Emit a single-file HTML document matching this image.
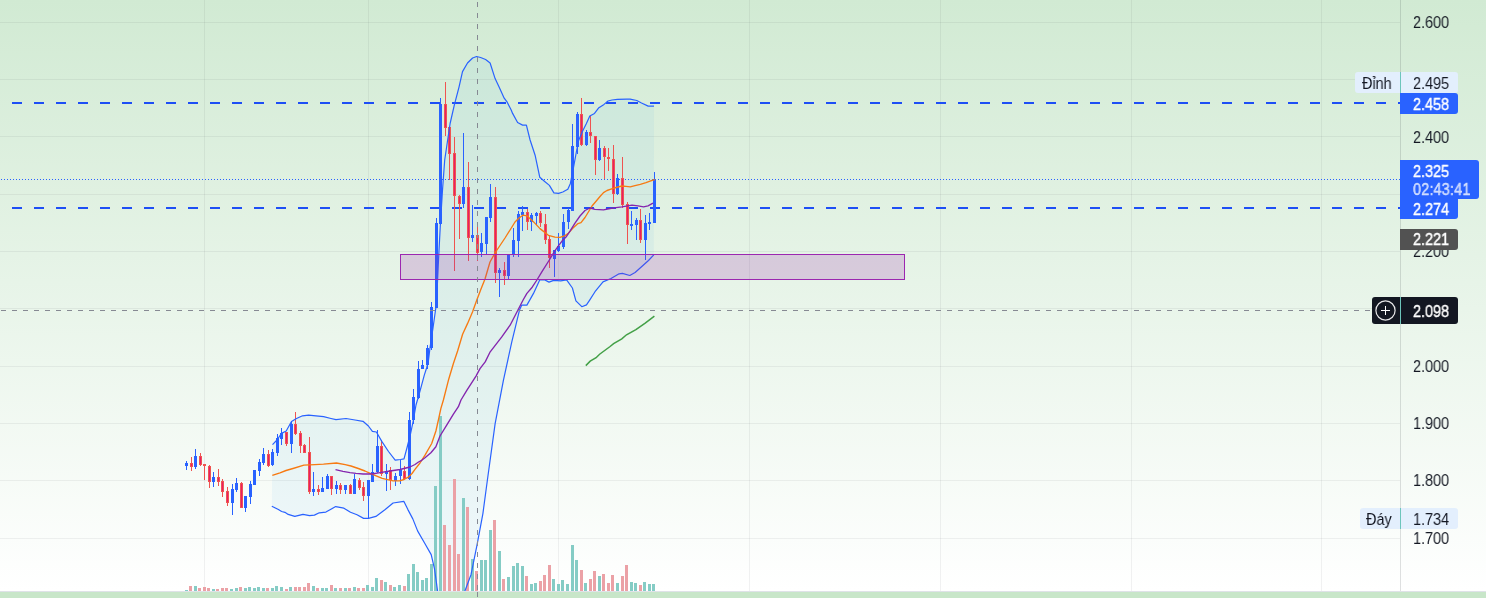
<!DOCTYPE html>
<html><head><meta charset="utf-8"><style>
html,body{margin:0;padding:0;}
body{width:1486px;height:598px;overflow:hidden;position:relative;
background:linear-gradient(to bottom,#d1ead3 0px,#ffffff 591px);
font-family:"Liberation Sans",sans-serif;}
svg.main{position:absolute;left:0;top:0;}
rect{shape-rendering:crispEdges;}
.tx{position:absolute;height:18px;line-height:18px;font-size:16.2px;white-space:nowrap;transform:scaleX(0.89);transform-origin:0 0;will-change:transform;}
.bx{position:absolute;}
</style></head><body>
<svg class="main" width="1486" height="598" viewBox="0 0 1486 598">
<defs><clipPath id="c"><rect x="0" y="0" width="1400" height="591"/></clipPath></defs>
<g clip-path="url(#c)">
<rect x="204" y="0" width="1" height="591" fill="rgba(42,46,57,0.065)"/>
<rect x="368" y="0" width="1" height="591" fill="rgba(42,46,57,0.065)"/>
<rect x="558" y="0" width="1" height="591" fill="rgba(42,46,57,0.065)"/>
<rect x="749" y="0" width="1" height="591" fill="rgba(42,46,57,0.065)"/>
<rect x="940" y="0" width="1" height="591" fill="rgba(42,46,57,0.065)"/>
<rect x="1131" y="0" width="1" height="591" fill="rgba(42,46,57,0.065)"/>
<rect x="1321" y="0" width="1" height="591" fill="rgba(42,46,57,0.065)"/>
<rect x="0" y="22" width="1400" height="1" fill="rgba(42,46,57,0.065)"/>
<rect x="0" y="79" width="1400" height="1" fill="rgba(42,46,57,0.065)"/>
<rect x="0" y="136" width="1400" height="1" fill="rgba(42,46,57,0.065)"/>
<rect x="0" y="194" width="1400" height="1" fill="rgba(42,46,57,0.065)"/>
<rect x="0" y="251" width="1400" height="1" fill="rgba(42,46,57,0.065)"/>
<rect x="0" y="308" width="1400" height="1" fill="rgba(42,46,57,0.065)"/>
<rect x="0" y="366" width="1400" height="1" fill="rgba(42,46,57,0.065)"/>
<rect x="0" y="423" width="1400" height="1" fill="rgba(42,46,57,0.065)"/>
<rect x="0" y="480" width="1400" height="1" fill="rgba(42,46,57,0.065)"/>
<rect x="0" y="538" width="1400" height="1" fill="rgba(42,46,57,0.065)"/>
<polygon points="272.5,444.6 277.0,440.0 281.5,433.4 286.2,431.0 291.5,421.5 296.5,418.5 302.5,415.8 308.6,415.2 316.0,415.8 323.6,416.7 331.0,418.5 336.0,419.6 346.0,418.5 355.0,420.0 363.0,421.3 368.4,426.0 372.4,431.4 376.4,432.0 381.8,441.4 388.5,451.5 395.2,460.2 400.5,459.5 404.0,458.8 407.2,447.0 410.5,434.0 413.0,422.0 416.0,405.0 420.2,390.3 424.3,375.1 426.6,368.0 428.4,361.0 430.1,347.0 433.0,328.0 436.5,303.0 438.5,260.0 440.5,222.0 442.5,190.0 444.7,160.0 450.1,123.5 454.3,105.2 459.0,87.1 462.5,71.6 467.5,63.0 472.6,58.0 476.6,56.5 480.6,57.5 485.6,59.5 490.1,63.0 495.1,78.6 499.1,87.1 504.2,98.2 507.2,102.2 511.2,110.0 512.6,113.4 517.6,122.5 522.6,125.1 526.4,125.1 530.1,140.0 535.1,155.2 539.8,177.3 544.4,181.2 549.4,185.4 553.9,192.9 558.6,193.4 562.8,192.0 567.8,189.2 570.3,183.7 573.6,167.0 577.0,148.5 578.4,140.9 582.4,131.5 586.4,123.5 589.8,116.1 594.5,113.4 598.5,108.1 604.0,104.4 608.0,101.0 612.0,100.0 617.4,99.3 626.8,99.1 630.1,99.1 636.8,100.5 641.5,103.0 648.2,106.1 654.0,106.2 653.8,254.9 648.5,260.5 641.8,266.5 635.1,272.5 629.8,275.5 622.4,273.4 619.1,273.8 611.0,278.5 603.0,281.9 595.0,291.7 590.0,299.6 586.5,304.9 581.8,306.7 575.9,300.8 572.4,288.0 566.6,279.8 560.7,280.9 553.7,280.4 549.0,282.1 544.4,279.8 539.7,280.0 533.5,293.4 526.9,305.1 521.8,305.1 519.5,310.1 511.8,341.9 503.4,380.3 495.1,423.8 487.4,480.0 482.9,513.6 477.0,545.1 471.0,574.7 465.1,590.5 460.0,625.0 450.0,650.0 440.0,625.0 437.5,590.5 434.5,568.8 431.2,554.6 424.7,543.2 417.7,531.1 412.8,518.9 407.9,509.6 403.8,501.3 393.1,503.0 384.9,509.8 375.9,516.4 368.5,518.4 363.6,518.4 357.0,514.8 350.5,512.3 343.9,508.2 335.7,506.6 325.9,512.1 319.3,512.8 314.4,515.1 309.5,515.6 303.0,514.4 294.8,516.4 288.2,514.4 284.9,512.3 281.6,511.5 278.4,509.5 271.8,506.2" fill="rgba(33,150,243,0.06)"/>
<rect x="185" y="590" width="3" height="1" fill="#85ccc5"/>
<rect x="189" y="586" width="3" height="5" fill="#eba1a6"/>
<rect x="194" y="586" width="3" height="5" fill="#85ccc5"/>
<rect x="198" y="588" width="3" height="3" fill="#eba1a6"/>
<rect x="203" y="587" width="3" height="4" fill="#eba1a6"/>
<rect x="207" y="588" width="3" height="3" fill="#eba1a6"/>
<rect x="212" y="589" width="3" height="2" fill="#85ccc5"/>
<rect x="216" y="589" width="3" height="2" fill="#eba1a6"/>
<rect x="221" y="588" width="3" height="3" fill="#eba1a6"/>
<rect x="225" y="588" width="3" height="3" fill="#eba1a6"/>
<rect x="230" y="589" width="3" height="2" fill="#85ccc5"/>
<rect x="235" y="588" width="3" height="3" fill="#85ccc5"/>
<rect x="239" y="587" width="3" height="4" fill="#eba1a6"/>
<rect x="244" y="588" width="3" height="3" fill="#85ccc5"/>
<rect x="248" y="587" width="3" height="4" fill="#85ccc5"/>
<rect x="253" y="588" width="3" height="3" fill="#85ccc5"/>
<rect x="257" y="587" width="3" height="4" fill="#85ccc5"/>
<rect x="262" y="588" width="3" height="3" fill="#85ccc5"/>
<rect x="266" y="588" width="3" height="3" fill="#eba1a6"/>
<rect x="271" y="588" width="3" height="3" fill="#85ccc5"/>
<rect x="275" y="586" width="3" height="5" fill="#85ccc5"/>
<rect x="280" y="587" width="3" height="4" fill="#85ccc5"/>
<rect x="285" y="589" width="3" height="2" fill="#eba1a6"/>
<rect x="289" y="587" width="3" height="4" fill="#85ccc5"/>
<rect x="294" y="587" width="3" height="4" fill="#eba1a6"/>
<rect x="298" y="587" width="3" height="4" fill="#eba1a6"/>
<rect x="303" y="587" width="3" height="4" fill="#eba1a6"/>
<rect x="307" y="583" width="3" height="8" fill="#eba1a6"/>
<rect x="312" y="586" width="3" height="5" fill="#85ccc5"/>
<rect x="316" y="588" width="3" height="3" fill="#eba1a6"/>
<rect x="321" y="588" width="3" height="3" fill="#85ccc5"/>
<rect x="325" y="588" width="3" height="3" fill="#85ccc5"/>
<rect x="330" y="585" width="3" height="6" fill="#eba1a6"/>
<rect x="334" y="588" width="3" height="3" fill="#85ccc5"/>
<rect x="339" y="588" width="3" height="3" fill="#eba1a6"/>
<rect x="344" y="588" width="3" height="3" fill="#85ccc5"/>
<rect x="348" y="588" width="3" height="3" fill="#eba1a6"/>
<rect x="353" y="587" width="3" height="4" fill="#85ccc5"/>
<rect x="357" y="588" width="3" height="3" fill="#eba1a6"/>
<rect x="362" y="588" width="3" height="3" fill="#eba1a6"/>
<rect x="366" y="585" width="3" height="6" fill="#85ccc5"/>
<rect x="371" y="587" width="3" height="4" fill="#85ccc5"/>
<rect x="375" y="578" width="3" height="13" fill="#85ccc5"/>
<rect x="380" y="580" width="3" height="11" fill="#eba1a6"/>
<rect x="384" y="582" width="3" height="9" fill="#85ccc5"/>
<rect x="389" y="585" width="3" height="6" fill="#eba1a6"/>
<rect x="393" y="587" width="3" height="4" fill="#85ccc5"/>
<rect x="398" y="585" width="3" height="6" fill="#85ccc5"/>
<rect x="403" y="586" width="3" height="5" fill="#eba1a6"/>
<rect x="407" y="574" width="3" height="17" fill="#85ccc5"/>
<rect x="412" y="564" width="3" height="27" fill="#85ccc5"/>
<rect x="416" y="572" width="3" height="19" fill="#85ccc5"/>
<rect x="421" y="580" width="3" height="11" fill="#85ccc5"/>
<rect x="425" y="578" width="3" height="13" fill="#85ccc5"/>
<rect x="430" y="564" width="3" height="27" fill="#85ccc5"/>
<rect x="434" y="486" width="3" height="105" fill="#85ccc5"/>
<rect x="439" y="416" width="3" height="175" fill="#85ccc5"/>
<rect x="443" y="525" width="3" height="66" fill="#eba1a6"/>
<rect x="448" y="545" width="3" height="46" fill="#eba1a6"/>
<rect x="453" y="479" width="3" height="112" fill="#eba1a6"/>
<rect x="457" y="554" width="3" height="37" fill="#eba1a6"/>
<rect x="462" y="498" width="3" height="93" fill="#85ccc5"/>
<rect x="466" y="507" width="3" height="84" fill="#eba1a6"/>
<rect x="471" y="559" width="3" height="32" fill="#85ccc5"/>
<rect x="475" y="571" width="3" height="20" fill="#eba1a6"/>
<rect x="480" y="560" width="3" height="31" fill="#85ccc5"/>
<rect x="484" y="560" width="3" height="31" fill="#85ccc5"/>
<rect x="489" y="530" width="3" height="61" fill="#85ccc5"/>
<rect x="493" y="520" width="3" height="71" fill="#eba1a6"/>
<rect x="498" y="551" width="3" height="40" fill="#85ccc5"/>
<rect x="502" y="579" width="3" height="12" fill="#eba1a6"/>
<rect x="507" y="577" width="3" height="14" fill="#85ccc5"/>
<rect x="512" y="566" width="3" height="25" fill="#85ccc5"/>
<rect x="516" y="563" width="3" height="28" fill="#85ccc5"/>
<rect x="521" y="566" width="3" height="25" fill="#85ccc5"/>
<rect x="525" y="576" width="3" height="15" fill="#eba1a6"/>
<rect x="530" y="584" width="3" height="7" fill="#85ccc5"/>
<rect x="534" y="583" width="3" height="8" fill="#85ccc5"/>
<rect x="539" y="581" width="3" height="10" fill="#eba1a6"/>
<rect x="543" y="575" width="3" height="16" fill="#eba1a6"/>
<rect x="548" y="565" width="3" height="26" fill="#eba1a6"/>
<rect x="552" y="579" width="3" height="12" fill="#85ccc5"/>
<rect x="557" y="584" width="3" height="7" fill="#85ccc5"/>
<rect x="561" y="580" width="3" height="11" fill="#85ccc5"/>
<rect x="566" y="584" width="3" height="7" fill="#85ccc5"/>
<rect x="571" y="545" width="3" height="46" fill="#85ccc5"/>
<rect x="575" y="560" width="3" height="31" fill="#85ccc5"/>
<rect x="580" y="570" width="3" height="21" fill="#eba1a6"/>
<rect x="584" y="583" width="3" height="8" fill="#85ccc5"/>
<rect x="589" y="579" width="3" height="12" fill="#eba1a6"/>
<rect x="593" y="571" width="3" height="20" fill="#eba1a6"/>
<rect x="598" y="576" width="3" height="15" fill="#85ccc5"/>
<rect x="602" y="574" width="3" height="17" fill="#eba1a6"/>
<rect x="607" y="583" width="3" height="8" fill="#eba1a6"/>
<rect x="611" y="575" width="3" height="16" fill="#eba1a6"/>
<rect x="616" y="583" width="3" height="8" fill="#85ccc5"/>
<rect x="621" y="576" width="3" height="15" fill="#eba1a6"/>
<rect x="625" y="565" width="3" height="26" fill="#eba1a6"/>
<rect x="630" y="582" width="3" height="9" fill="#85ccc5"/>
<rect x="634" y="583" width="3" height="8" fill="#85ccc5"/>
<rect x="639" y="585" width="3" height="6" fill="#eba1a6"/>
<rect x="643" y="582" width="3" height="9" fill="#85ccc5"/>
<rect x="648" y="584" width="3" height="7" fill="#85ccc5"/>
<rect x="652" y="584" width="3" height="7" fill="#85ccc5"/>
<line x1="12" y1="103" x2="1400" y2="103" stroke="#1e4ff5" stroke-width="2" stroke-dasharray="10 12"/>
<line x1="12" y1="208" x2="1400" y2="208" stroke="#1e4ff5" stroke-width="2" stroke-dasharray="10 12"/>
<line x1="1" y1="179.5" x2="1400" y2="179.5" stroke="#2962ff" stroke-width="1" stroke-dasharray="1 2"/>
<rect x="186" y="461" width="1" height="9" fill="#2962ff"/>
<rect x="185" y="463" width="3" height="3" fill="#2962ff"/>
<rect x="191" y="457" width="1" height="14" fill="#ef5350"/>
<rect x="190" y="463" width="3" height="4" fill="#ef5350"/>
<rect x="191" y="464" width="1" height="2" fill="#e91e63"/>
<rect x="195" y="449" width="1" height="20" fill="#2962ff"/>
<rect x="194" y="456" width="3" height="11" fill="#2962ff"/>
<rect x="200" y="453" width="1" height="13" fill="#ef5350"/>
<rect x="199" y="456" width="3" height="9" fill="#ef5350"/>
<rect x="200" y="457" width="1" height="7" fill="#e91e63"/>
<rect x="204" y="464" width="1" height="16" fill="#ef5350"/>
<rect x="203" y="464" width="3" height="2" fill="#ef5350"/>
<rect x="209" y="465" width="1" height="23" fill="#ef5350"/>
<rect x="208" y="466" width="3" height="16" fill="#ef5350"/>
<rect x="209" y="467" width="1" height="14" fill="#e91e63"/>
<rect x="213" y="472" width="1" height="15" fill="#2962ff"/>
<rect x="212" y="477" width="3" height="5" fill="#2962ff"/>
<rect x="218" y="469" width="1" height="17" fill="#ef5350"/>
<rect x="217" y="477" width="3" height="5" fill="#ef5350"/>
<rect x="218" y="478" width="1" height="3" fill="#e91e63"/>
<rect x="222" y="479" width="1" height="18" fill="#ef5350"/>
<rect x="221" y="481" width="3" height="11" fill="#ef5350"/>
<rect x="222" y="482" width="1" height="9" fill="#e91e63"/>
<rect x="227" y="487" width="1" height="19" fill="#ef5350"/>
<rect x="226" y="491" width="3" height="12" fill="#ef5350"/>
<rect x="227" y="492" width="1" height="10" fill="#e91e63"/>
<rect x="232" y="484" width="1" height="31" fill="#2962ff"/>
<rect x="231" y="489" width="3" height="14" fill="#2962ff"/>
<rect x="236" y="478" width="1" height="14" fill="#2962ff"/>
<rect x="235" y="483" width="3" height="7" fill="#2962ff"/>
<rect x="241" y="482" width="1" height="26" fill="#ef5350"/>
<rect x="240" y="483" width="3" height="25" fill="#ef5350"/>
<rect x="241" y="484" width="1" height="23" fill="#e91e63"/>
<rect x="245" y="496" width="1" height="16" fill="#2962ff"/>
<rect x="244" y="496" width="3" height="12" fill="#2962ff"/>
<rect x="250" y="481" width="1" height="23" fill="#2962ff"/>
<rect x="249" y="484" width="3" height="13" fill="#2962ff"/>
<rect x="254" y="470" width="1" height="15" fill="#2962ff"/>
<rect x="253" y="470" width="3" height="15" fill="#2962ff"/>
<rect x="259" y="459" width="1" height="17" fill="#2962ff"/>
<rect x="258" y="462" width="3" height="9" fill="#2962ff"/>
<rect x="263" y="448" width="1" height="17" fill="#2962ff"/>
<rect x="262" y="454" width="3" height="9" fill="#2962ff"/>
<rect x="268" y="450" width="1" height="17" fill="#ef5350"/>
<rect x="267" y="454" width="3" height="12" fill="#ef5350"/>
<rect x="268" y="455" width="1" height="10" fill="#e91e63"/>
<rect x="272" y="449" width="1" height="17" fill="#2962ff"/>
<rect x="271" y="452" width="3" height="13" fill="#2962ff"/>
<rect x="277" y="434" width="1" height="22" fill="#2962ff"/>
<rect x="276" y="438" width="3" height="15" fill="#2962ff"/>
<rect x="281" y="428" width="1" height="17" fill="#2962ff"/>
<rect x="280" y="433" width="3" height="6" fill="#2962ff"/>
<rect x="286" y="432" width="1" height="14" fill="#ef5350"/>
<rect x="285" y="432" width="3" height="12" fill="#ef5350"/>
<rect x="286" y="433" width="1" height="10" fill="#e91e63"/>
<rect x="291" y="421" width="1" height="32" fill="#2962ff"/>
<rect x="290" y="424" width="3" height="20" fill="#2962ff"/>
<rect x="295" y="412" width="1" height="23" fill="#ef5350"/>
<rect x="294" y="424" width="3" height="10" fill="#ef5350"/>
<rect x="295" y="425" width="1" height="8" fill="#e91e63"/>
<rect x="300" y="431" width="1" height="22" fill="#ef5350"/>
<rect x="299" y="433" width="3" height="13" fill="#ef5350"/>
<rect x="300" y="434" width="1" height="11" fill="#e91e63"/>
<rect x="304" y="444" width="1" height="9" fill="#ef5350"/>
<rect x="303" y="445" width="3" height="8" fill="#ef5350"/>
<rect x="304" y="446" width="1" height="6" fill="#e91e63"/>
<rect x="309" y="437" width="1" height="57" fill="#ef5350"/>
<rect x="308" y="452" width="3" height="40" fill="#ef5350"/>
<rect x="309" y="453" width="1" height="38" fill="#e91e63"/>
<rect x="313" y="472" width="1" height="24" fill="#2962ff"/>
<rect x="312" y="489" width="3" height="3" fill="#2962ff"/>
<rect x="318" y="485" width="1" height="10" fill="#ef5350"/>
<rect x="317" y="489" width="3" height="3" fill="#ef5350"/>
<rect x="318" y="490" width="1" height="1" fill="#e91e63"/>
<rect x="322" y="477" width="1" height="15" fill="#2962ff"/>
<rect x="321" y="488" width="3" height="4" fill="#2962ff"/>
<rect x="327" y="474" width="1" height="15" fill="#2962ff"/>
<rect x="326" y="476" width="3" height="13" fill="#2962ff"/>
<rect x="331" y="476" width="1" height="19" fill="#ef5350"/>
<rect x="330" y="476" width="3" height="13" fill="#ef5350"/>
<rect x="331" y="477" width="1" height="11" fill="#e91e63"/>
<rect x="336" y="481" width="1" height="13" fill="#2962ff"/>
<rect x="335" y="485" width="3" height="4" fill="#2962ff"/>
<rect x="340" y="483" width="1" height="11" fill="#ef5350"/>
<rect x="339" y="485" width="3" height="5" fill="#ef5350"/>
<rect x="340" y="486" width="1" height="3" fill="#e91e63"/>
<rect x="345" y="485" width="1" height="9" fill="#2962ff"/>
<rect x="344" y="485" width="3" height="5" fill="#2962ff"/>
<rect x="350" y="484" width="1" height="10" fill="#ef5350"/>
<rect x="349" y="485" width="3" height="9" fill="#ef5350"/>
<rect x="350" y="486" width="1" height="7" fill="#e91e63"/>
<rect x="354" y="474" width="1" height="20" fill="#2962ff"/>
<rect x="353" y="479" width="3" height="15" fill="#2962ff"/>
<rect x="359" y="478" width="1" height="12" fill="#ef5350"/>
<rect x="358" y="480" width="3" height="8" fill="#ef5350"/>
<rect x="359" y="481" width="1" height="6" fill="#e91e63"/>
<rect x="363" y="482" width="1" height="19" fill="#ef5350"/>
<rect x="362" y="487" width="3" height="9" fill="#ef5350"/>
<rect x="363" y="488" width="1" height="7" fill="#e91e63"/>
<rect x="368" y="480" width="1" height="38" fill="#2962ff"/>
<rect x="367" y="480" width="3" height="16" fill="#2962ff"/>
<rect x="372" y="464" width="1" height="18" fill="#2962ff"/>
<rect x="371" y="472" width="3" height="10" fill="#2962ff"/>
<rect x="377" y="430" width="1" height="43" fill="#2962ff"/>
<rect x="376" y="446" width="3" height="26" fill="#2962ff"/>
<rect x="381" y="440" width="1" height="36" fill="#ef5350"/>
<rect x="380" y="446" width="3" height="28" fill="#ef5350"/>
<rect x="381" y="447" width="1" height="26" fill="#e91e63"/>
<rect x="386" y="464" width="1" height="27" fill="#2962ff"/>
<rect x="385" y="471" width="3" height="3" fill="#2962ff"/>
<rect x="390" y="467" width="1" height="23" fill="#ef5350"/>
<rect x="389" y="470" width="3" height="10" fill="#ef5350"/>
<rect x="390" y="471" width="1" height="8" fill="#e91e63"/>
<rect x="395" y="473" width="1" height="13" fill="#2962ff"/>
<rect x="394" y="476" width="3" height="5" fill="#2962ff"/>
<rect x="400" y="460" width="1" height="24" fill="#2962ff"/>
<rect x="399" y="470" width="3" height="6" fill="#2962ff"/>
<rect x="404" y="466" width="1" height="14" fill="#ef5350"/>
<rect x="403" y="471" width="3" height="8" fill="#ef5350"/>
<rect x="404" y="472" width="1" height="6" fill="#e91e63"/>
<rect x="409" y="412" width="1" height="68" fill="#2962ff"/>
<rect x="408" y="420" width="3" height="59" fill="#2962ff"/>
<rect x="413" y="389" width="1" height="35" fill="#2962ff"/>
<rect x="412" y="397" width="3" height="23" fill="#2962ff"/>
<rect x="418" y="361" width="1" height="38" fill="#2962ff"/>
<rect x="417" y="369" width="3" height="29" fill="#2962ff"/>
<rect x="422" y="360" width="1" height="9" fill="#2962ff"/>
<rect x="421" y="365" width="3" height="4" fill="#2962ff"/>
<rect x="427" y="345" width="1" height="24" fill="#2962ff"/>
<rect x="426" y="348" width="3" height="17" fill="#2962ff"/>
<rect x="431" y="302" width="1" height="48" fill="#2962ff"/>
<rect x="430" y="307" width="3" height="41" fill="#2962ff"/>
<rect x="436" y="218" width="1" height="90" fill="#2962ff"/>
<rect x="435" y="223" width="3" height="85" fill="#2962ff"/>
<rect x="440" y="98" width="1" height="127" fill="#2962ff"/>
<rect x="439" y="104" width="3" height="120" fill="#2962ff"/>
<rect x="445" y="82" width="1" height="54" fill="#ef5350"/>
<rect x="444" y="104" width="3" height="24" fill="#ef5350"/>
<rect x="445" y="105" width="1" height="22" fill="#e91e63"/>
<rect x="449" y="127" width="1" height="53" fill="#ef5350"/>
<rect x="448" y="127" width="3" height="27" fill="#ef5350"/>
<rect x="449" y="128" width="1" height="25" fill="#e91e63"/>
<rect x="454" y="137" width="1" height="134" fill="#ef5350"/>
<rect x="453" y="153" width="3" height="43" fill="#ef5350"/>
<rect x="454" y="154" width="1" height="41" fill="#e91e63"/>
<rect x="459" y="195" width="1" height="44" fill="#ef5350"/>
<rect x="458" y="196" width="3" height="8" fill="#ef5350"/>
<rect x="459" y="197" width="1" height="6" fill="#e91e63"/>
<rect x="463" y="133" width="1" height="75" fill="#2962ff"/>
<rect x="462" y="187" width="3" height="17" fill="#2962ff"/>
<rect x="468" y="162" width="1" height="99" fill="#ef5350"/>
<rect x="467" y="187" width="3" height="51" fill="#ef5350"/>
<rect x="468" y="188" width="1" height="49" fill="#e91e63"/>
<rect x="472" y="205" width="1" height="37" fill="#2962ff"/>
<rect x="471" y="235" width="3" height="3" fill="#2962ff"/>
<rect x="477" y="227" width="1" height="34" fill="#ef5350"/>
<rect x="476" y="235" width="3" height="18" fill="#ef5350"/>
<rect x="477" y="236" width="1" height="16" fill="#e91e63"/>
<rect x="481" y="233" width="1" height="24" fill="#2962ff"/>
<rect x="480" y="243" width="3" height="9" fill="#2962ff"/>
<rect x="486" y="217" width="1" height="37" fill="#2962ff"/>
<rect x="485" y="217" width="3" height="27" fill="#2962ff"/>
<rect x="490" y="184" width="1" height="38" fill="#2962ff"/>
<rect x="489" y="197" width="3" height="21" fill="#2962ff"/>
<rect x="495" y="187" width="1" height="96" fill="#ef5350"/>
<rect x="494" y="197" width="3" height="76" fill="#ef5350"/>
<rect x="495" y="198" width="1" height="74" fill="#e91e63"/>
<rect x="499" y="268" width="1" height="29" fill="#2962ff"/>
<rect x="498" y="270" width="3" height="3" fill="#2962ff"/>
<rect x="504" y="262" width="1" height="23" fill="#ef5350"/>
<rect x="503" y="270" width="3" height="6" fill="#ef5350"/>
<rect x="504" y="271" width="1" height="4" fill="#e91e63"/>
<rect x="508" y="254" width="1" height="26" fill="#2962ff"/>
<rect x="507" y="254" width="3" height="22" fill="#2962ff"/>
<rect x="513" y="228" width="1" height="29" fill="#2962ff"/>
<rect x="512" y="240" width="3" height="14" fill="#2962ff"/>
<rect x="518" y="211" width="1" height="46" fill="#2962ff"/>
<rect x="517" y="214" width="3" height="27" fill="#2962ff"/>
<rect x="522" y="206" width="1" height="25" fill="#2962ff"/>
<rect x="521" y="212" width="3" height="3" fill="#2962ff"/>
<rect x="527" y="209" width="1" height="21" fill="#ef5350"/>
<rect x="526" y="212" width="3" height="10" fill="#ef5350"/>
<rect x="527" y="213" width="1" height="8" fill="#e91e63"/>
<rect x="531" y="213" width="1" height="18" fill="#2962ff"/>
<rect x="530" y="215" width="3" height="7" fill="#2962ff"/>
<rect x="536" y="212" width="1" height="13" fill="#2962ff"/>
<rect x="535" y="213" width="3" height="3" fill="#2962ff"/>
<rect x="540" y="211" width="1" height="16" fill="#ef5350"/>
<rect x="539" y="213" width="3" height="10" fill="#ef5350"/>
<rect x="540" y="214" width="1" height="8" fill="#e91e63"/>
<rect x="545" y="214" width="1" height="30" fill="#ef5350"/>
<rect x="544" y="224" width="3" height="16" fill="#ef5350"/>
<rect x="545" y="225" width="1" height="14" fill="#e91e63"/>
<rect x="549" y="235" width="1" height="33" fill="#ef5350"/>
<rect x="548" y="239" width="3" height="19" fill="#ef5350"/>
<rect x="549" y="240" width="1" height="17" fill="#e91e63"/>
<rect x="554" y="250" width="1" height="27" fill="#2962ff"/>
<rect x="553" y="250" width="3" height="9" fill="#2962ff"/>
<rect x="558" y="233" width="1" height="19" fill="#2962ff"/>
<rect x="557" y="246" width="3" height="5" fill="#2962ff"/>
<rect x="563" y="214" width="1" height="35" fill="#2962ff"/>
<rect x="562" y="222" width="3" height="25" fill="#2962ff"/>
<rect x="568" y="208" width="1" height="21" fill="#2962ff"/>
<rect x="567" y="210" width="3" height="12" fill="#2962ff"/>
<rect x="572" y="124" width="1" height="87" fill="#2962ff"/>
<rect x="571" y="146" width="3" height="65" fill="#2962ff"/>
<rect x="577" y="112" width="1" height="42" fill="#2962ff"/>
<rect x="576" y="114" width="3" height="33" fill="#2962ff"/>
<rect x="581" y="98" width="1" height="48" fill="#ef5350"/>
<rect x="580" y="114" width="3" height="31" fill="#ef5350"/>
<rect x="581" y="115" width="1" height="29" fill="#e91e63"/>
<rect x="586" y="130" width="1" height="16" fill="#2962ff"/>
<rect x="585" y="132" width="3" height="13" fill="#2962ff"/>
<rect x="590" y="116" width="1" height="27" fill="#ef5350"/>
<rect x="589" y="132" width="3" height="4" fill="#ef5350"/>
<rect x="590" y="133" width="1" height="2" fill="#e91e63"/>
<rect x="595" y="136" width="1" height="39" fill="#ef5350"/>
<rect x="594" y="136" width="3" height="24" fill="#ef5350"/>
<rect x="595" y="137" width="1" height="22" fill="#e91e63"/>
<rect x="599" y="140" width="1" height="21" fill="#2962ff"/>
<rect x="598" y="148" width="3" height="12" fill="#2962ff"/>
<rect x="604" y="146" width="1" height="33" fill="#ef5350"/>
<rect x="603" y="148" width="3" height="9" fill="#ef5350"/>
<rect x="604" y="149" width="1" height="7" fill="#e91e63"/>
<rect x="608" y="148" width="1" height="23" fill="#ef5350"/>
<rect x="607" y="157" width="3" height="2" fill="#ef5350"/>
<rect x="613" y="145" width="1" height="58" fill="#ef5350"/>
<rect x="612" y="159" width="3" height="35" fill="#ef5350"/>
<rect x="613" y="160" width="1" height="33" fill="#e91e63"/>
<rect x="617" y="174" width="1" height="21" fill="#2962ff"/>
<rect x="616" y="178" width="3" height="16" fill="#2962ff"/>
<rect x="622" y="157" width="1" height="51" fill="#ef5350"/>
<rect x="621" y="178" width="3" height="27" fill="#ef5350"/>
<rect x="622" y="179" width="1" height="25" fill="#e91e63"/>
<rect x="627" y="202" width="1" height="42" fill="#ef5350"/>
<rect x="626" y="204" width="3" height="21" fill="#ef5350"/>
<rect x="627" y="205" width="1" height="19" fill="#e91e63"/>
<rect x="631" y="211" width="1" height="19" fill="#2962ff"/>
<rect x="630" y="224" width="3" height="2" fill="#2962ff"/>
<rect x="636" y="218" width="1" height="22" fill="#2962ff"/>
<rect x="635" y="220" width="3" height="5" fill="#2962ff"/>
<rect x="640" y="209" width="1" height="34" fill="#ef5350"/>
<rect x="639" y="220" width="3" height="20" fill="#ef5350"/>
<rect x="640" y="221" width="1" height="18" fill="#e91e63"/>
<rect x="645" y="215" width="1" height="45" fill="#2962ff"/>
<rect x="644" y="223" width="3" height="17" fill="#2962ff"/>
<rect x="649" y="213" width="1" height="17" fill="#2962ff"/>
<rect x="648" y="222" width="3" height="2" fill="#2962ff"/>
<rect x="654" y="172" width="1" height="51" fill="#2962ff"/>
<rect x="653" y="179" width="3" height="44" fill="#2962ff"/>
<polyline points="272.5,444.6 277.0,440.0 281.5,433.4 286.2,431.0 291.5,421.5 296.5,418.5 302.5,415.8 308.6,415.2 316.0,415.8 323.6,416.7 331.0,418.5 336.0,419.6 346.0,418.5 355.0,420.0 363.0,421.3 368.4,426.0 372.4,431.4 376.4,432.0 381.8,441.4 388.5,451.5 395.2,460.2 400.5,459.5 404.0,458.8 407.2,447.0 410.5,434.0 413.0,422.0 416.0,405.0 420.2,390.3 424.3,375.1 426.6,368.0 428.4,361.0 430.1,347.0 433.0,328.0 436.5,303.0 438.5,260.0 440.5,222.0 442.5,190.0 444.7,160.0 450.1,123.5 454.3,105.2 459.0,87.1 462.5,71.6 467.5,63.0 472.6,58.0 476.6,56.5 480.6,57.5 485.6,59.5 490.1,63.0 495.1,78.6 499.1,87.1 504.2,98.2 507.2,102.2 511.2,110.0 512.6,113.4 517.6,122.5 522.6,125.1 526.4,125.1 530.1,140.0 535.1,155.2 539.8,177.3 544.4,181.2 549.4,185.4 553.9,192.9 558.6,193.4 562.8,192.0 567.8,189.2 570.3,183.7 573.6,167.0 577.0,148.5 578.4,140.9 582.4,131.5 586.4,123.5 589.8,116.1 594.5,113.4 598.5,108.1 604.0,104.4 608.0,101.0 612.0,100.0 617.4,99.3 626.8,99.1 630.1,99.1 636.8,100.5 641.5,103.0 648.2,106.1 654.0,106.2" fill="none" stroke="#2962ff" stroke-width="1.2" stroke-linejoin="round"/>
<polyline points="271.8,506.2 278.4,509.5 281.6,511.5 284.9,512.3 288.2,514.4 294.8,516.4 303.0,514.4 309.5,515.6 314.4,515.1 319.3,512.8 325.9,512.1 335.7,506.6 343.9,508.2 350.5,512.3 357.0,514.8 363.6,518.4 368.5,518.4 375.9,516.4 384.9,509.8 393.1,503.0 403.8,501.3 407.9,509.6 412.8,518.9 417.7,531.1 424.7,543.2 431.2,554.6 434.5,568.8 437.5,590.5 440.0,625.0 450.0,650.0 460.0,625.0 465.1,590.5 471.0,574.7 477.0,545.1 482.9,513.6 487.4,480.0 495.1,423.8 503.4,380.3 511.8,341.9 519.5,310.1 521.8,305.1 526.9,305.1 533.5,293.4 539.7,280.0 544.4,279.8 549.0,282.1 553.7,280.4 560.7,280.9 566.6,279.8 572.4,288.0 575.9,300.8 581.8,306.7 586.5,304.9 590.0,299.6 595.0,291.7 603.0,281.9 611.0,278.5 619.1,273.8 622.4,273.4 629.8,275.5 635.1,272.5 641.8,266.5 648.5,260.5 653.8,254.9" fill="none" stroke="#2962ff" stroke-width="1.2" stroke-linejoin="round"/>
<polyline points="272.3,475.3 280.0,472.8 286.0,470.5 293.0,468.5 303.9,465.2 314.8,464.6 323.5,464.1 336.5,463.0 345.2,464.6 351.0,466.0 358.3,468.5 365.0,471.0 371.3,473.9 382.2,478.3 393.0,480.9 399.6,480.9 404.0,479.5 408.3,477.2 412.0,473.5 414.8,469.6 420.0,463.0 425.0,455.2 431.7,443.5 435.9,431.0 438.4,420.0 440.9,408.4 443.4,400.0 448.4,380.3 453.4,363.5 457.6,351.0 462.6,334.3 467.6,323.4 472.6,311.7 476.8,300.0 481.0,289.0 485.0,279.0 490.0,262.0 495.0,253.0 500.0,245.5 505.0,238.0 511.0,228.5 515.0,222.0 519.0,218.0 522.9,215.2 526.9,215.8 533.6,221.9 540.0,228.6 548.4,235.3 555.0,237.1 560.0,237.3 565.0,235.6 568.0,233.6 573.0,228.1 578.0,223.6 581.0,222.6 585.0,217.5 589.0,211.0 592.0,206.0 595.0,202.5 600.0,196.5 603.5,192.6 607.0,190.5 610.2,189.3 616.0,187.5 621.9,186.0 626.0,186.3 630.2,186.8 635.0,185.6 640.3,184.3 646.0,182.6 652.8,180.1 655.0,179.6" fill="none" stroke="#f77a12" stroke-width="1.35" stroke-linejoin="round"/>
<polyline points="335.5,469.7 343.0,471.3 350.0,472.6 356.0,473.4 363.0,474.0 372.0,474.0 380.0,472.6 390.0,471.0 400.0,469.5 410.0,467.0 415.0,464.5 418.5,462.0 421.7,460.3 425.0,457.7 430.9,452.7 435.9,446.8 440.0,436.0 446.7,425.1 453.4,414.2 458.4,406.7 461.0,400.0 466.8,390.3 476.0,376.1 480.0,368.6 485.2,361.9 490.2,351.8 501.8,336.9 510.1,325.2 523.1,300.0 526.9,293.4 532.2,287.2 536.9,280.0 542.0,271.6 549.0,260.5 555.0,250.6 559.0,245.1 562.0,241.1 566.0,237.1 570.0,231.1 575.0,223.1 580.0,216.0 585.0,210.5 590.0,208.0 595.0,209.3 603.5,209.8 610.2,208.5 616.0,207.6 621.9,206.8 632.0,205.2 638.0,205.8 643.6,206.8 648.0,205.8 653.0,203.2" fill="none" stroke="#8425ae" stroke-width="1.35" stroke-linejoin="round"/>
<rect x="400.5" y="254.5" width="504" height="25" fill="rgba(156,39,176,0.2)" stroke="#9c27b0" stroke-width="1"/>
<polyline points="585.8,365.6 590.2,361.2 596.1,357.7 599.6,354.2 610.1,346.5 613.6,343.6 621.8,338.9 626.5,334.8 635.9,329.6 645.2,323.1 654.4,316.1" fill="none" stroke="#43a047" stroke-width="1.5"/>
<line x1="477.5" y1="2" x2="477.5" y2="591" stroke="#868993" stroke-width="1" stroke-dasharray="5 6"/>
<line x1="1" y1="310.5" x2="1372" y2="310.5" stroke="#868993" stroke-width="1" stroke-dasharray="5 6"/>
</g>
<rect x="1400" y="0" width="1" height="598" fill="rgba(42,46,57,0.15)"/>
<rect x="0" y="591" width="1486" height="1" fill="#dfe2e8"/>
<rect x="0" y="592" width="1486" height="6" fill="#c8e6c9"/>
<rect x="477" y="592" width="1" height="5" fill="#868993"/>
</svg>
<div class="tx" style="left:1413px;top:12.5px;color:#131722;">2.600</div>
<div class="tx" style="left:1413px;top:127.5px;color:#131722;">2.400</div>
<div class="tx" style="left:1413px;top:242px;color:#131722;">2.200</div>
<div class="tx" style="left:1413px;top:357px;color:#131722;">2.000</div>
<div class="tx" style="left:1413px;top:414px;color:#131722;">1.900</div>
<div class="tx" style="left:1413px;top:471px;color:#131722;">1.800</div>
<div class="tx" style="left:1413px;top:528.5px;color:#131722;">1.700</div>
<div class="bx" style="left:1355px;top:72px;width:45px;height:21px;background:#e3effd;border-radius:3px 0 0 3px;"></div>
<div class="bx" style="left:1401px;top:72px;width:57px;height:21px;background:#e3effd;border-radius:0 3px 3px 0;"></div>
<div class="bx" style="left:1400px;top:93px;width:58px;height:21px;background:#2962ff;border-radius:0 3px 3px 0;"></div>
<div class="bx" style="left:1400px;top:160px;width:79px;height:39px;background:#2962ff;border-radius:0 3px 3px 0;"></div>
<div class="bx" style="left:1400px;top:198px;width:58px;height:21px;background:#2962ff;border-radius:0 0 3px 0;"></div>
<div class="bx" style="left:1400px;top:229px;width:58px;height:21px;background:#525252;border-radius:0 3px 3px 0;"></div>
<div class="bx" style="left:1372px;top:297px;width:28px;height:27px;background:#131722;border-radius:3px 0 0 3px;"></div>
<div class="bx" style="left:1401px;top:297px;width:57px;height:27px;background:#131722;border-radius:0 3px 3px 0;"></div>
<div class="bx" style="left:1360px;top:508px;width:40px;height:21px;background:#e3effd;border-radius:3px 0 0 3px;"></div>
<div class="bx" style="left:1401px;top:508px;width:57px;height:21px;background:#e3effd;border-radius:0 3px 3px 0;"></div>
<div class="bx" style="left:1400px;top:72px;width:1px;height:21px;background:#6cc5bb;"></div>
<div class="bx" style="left:1400px;top:297px;width:1px;height:27px;background:#6cc5bb;"></div>
<div class="bx" style="left:1400px;top:508px;width:1px;height:21px;background:#6cc5bb;"></div>
<svg style="position:absolute;left:1372px;top:297px" width="28" height="27"><circle cx="13.5" cy="13.5" r="9.6" fill="none" stroke="#e8e8ea" stroke-width="1.2"/><path d="M9 13.5h9M13.5 9v9" stroke="#fff" stroke-width="1"/></svg>
<div class="tx" style="left:1362px;top:73.5px;color:#131722;">Đỉnh</div>
<div class="tx" style="left:1413px;top:73.5px;color:#131722;">2.495</div>
<div class="tx" style="left:1413px;top:94.5px;color:#fff;-webkit-text-stroke:0.45px currentColor;">2.458</div>
<div class="tx" style="left:1413px;top:161.5px;color:#fff;-webkit-text-stroke:0.45px currentColor;">2.325</div>
<div class="tx" style="left:1413px;top:179.5px;color:rgba(255,255,255,0.72);-webkit-text-stroke:0.45px currentColor;letter-spacing:0.2px;">02:43:41</div>
<div class="tx" style="left:1413px;top:199.5px;color:#fff;-webkit-text-stroke:0.45px currentColor;">2.274</div>
<div class="tx" style="left:1413px;top:230px;color:#fff;-webkit-text-stroke:0.45px currentColor;">2.221</div>
<div class="tx" style="left:1413px;top:301.5px;color:#fff;-webkit-text-stroke:0.45px currentColor;">2.098</div>
<div class="tx" style="left:1366px;top:509.5px;color:#131722;">Đáy</div>
<div class="tx" style="left:1413px;top:509.5px;color:#131722;">1.734</div>
</body></html>
